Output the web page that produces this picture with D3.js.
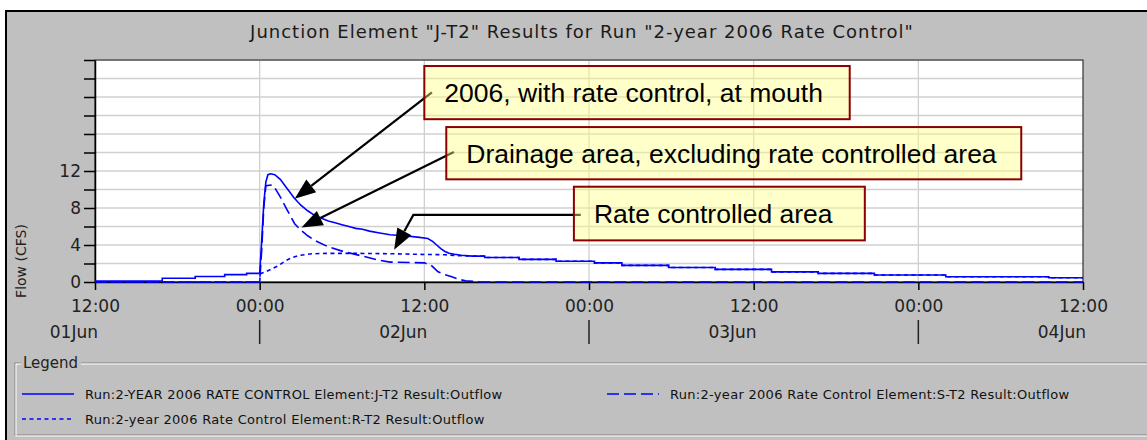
<!DOCTYPE html>
<html>
<head>
<meta charset="utf-8">
<script src="https://cdn.jsdelivr.net/npm/d3@7"></script>
<style>
  body { margin: 0; background: #fff; }
  svg { display: block; }
</style>
</head>
<body>
<div id="chart"></div>
<script>
// hours relative to 02Jun 00:00, flow in CFS
const jHours = [-12, -7.1, -7.1, -4.7, -4.7, -2.55, -2.55, -0.95, -0.95, 0, 0.15, 0.3, 0.45, 0.6, 0.8, 1.1, 1.5, 2, 2.5, 3, 3.5, 4, 4.5, 5, 5.5, 6, 6.5, 7, 7.5, 8, 8.75, 9.5, 10.5, 11.5, 12.25, 12.6, 12.9, 13.2, 13.5, 13.8, 14.2, 14.7, 15.5, 16.4];
const jFlow  = [0.1, 0.1, 0.4, 0.4, 0.6, 0.6, 0.8, 0.8, 0.93, 0.93, 4.5, 8.5, 10.8, 11.6, 11.7, 11.6, 11.1, 10.1, 9.1, 8.3, 7.7, 7.2, 6.9, 6.6, 6.4, 6.2, 6.0, 5.8, 5.7, 5.5, 5.3, 5.1, 5.0, 4.85, 4.7, 4.4, 4.0, 3.6, 3.3, 3.1, 3.0, 2.9, 2.8, 2.8];

// stepped recession shared by J-T2 and R-T2 after 16:24 on 02Jun
const tailHours = [16.4, 18.9, 18.9, 21.6, 21.6, 24.4, 24.4, 26.4, 26.4, 29.8, 29.8, 33.2, 33.2, 37.3, 37.3, 40.7, 40.7, 44.8, 44.8, 50, 50, 57.5, 57.5, 60];
const tailFlow  = [2.65, 2.65, 2.45, 2.45, 2.25, 2.25, 2.07, 2.07, 1.8, 1.8, 1.57, 1.57, 1.36, 1.36, 1.1, 1.1, 0.93, 0.93, 0.75, 0.75, 0.57, 0.57, 0.46, 0.46];

const sHours = [-12, 0, 0.15, 0.3, 0.45, 0.9, 1.1, 1.5, 2, 2.55, 3, 3.5, 4, 5, 6.2, 7.5, 8.7, 9.5, 12, 12.5, 13, 13.5, 14, 14.5, 15, 16, 16.7, 60];
const sFlow  = [0, 0, 3.5, 8, 10.4, 10.5, 10.2, 9.2, 7.8, 6.3, 5.6, 5.0, 4.5, 3.8, 3.25, 2.8, 2.36, 2.15, 2.07, 1.8, 1.1, 0.8, 0.57, 0.3, 0.12, 0.03, 0, 0];

const rHours = [-12, 0, 0.05, 0.5, 1, 1.4, 1.9, 2.3, 2.8, 3.8, 5, 7, 9.8, 12.3, 13.5, 14.5, 15.5, 16.4];
const rFlow  = [0, 0, 0.9, 1.15, 1.5, 1.8, 2.3, 2.6, 2.85, 3.05, 3.1, 3.1, 3.05, 2.97, 2.95, 2.85, 2.8, 2.8];

const legendLabels = [
  "Run:2-YEAR 2006 RATE CONTROL Element:J-T2 Result:Outflow",
  "Run:2-year 2006 Rate Control Element:S-T2 Result:Outflow",
  "Run:2-year 2006 Rate Control Element:R-T2 Result:Outflow"
];
const yTickValues = [0, 2, 4, 6, 8, 10, 12, 14, 16, 18, 20, 22, 24];
const yTickLabels = [0, 4, 8, 12];

const titleText = 'Junction Element "J-T2" Results for Run "2-year 2006 Rate Control"';

// callouts: box corners and arrow tips in (hour, flow)
const annotations = [
  { text: "2006, with rate control, at mouth", box: [12.0, 23.35, 43.0, 17.6], from: [12.55, 20.5], tip: [2.55, 9.0] },
  { text: "Drainage area, excluding rate controlled area", box: [13.6, 16.75, 55.5, 11.1], from: [14.15, 14.05], tip: [3.05, 5.9] },
  { text: "Rate controlled area", box: [22.9, 10.3, 44.1, 4.5], from: [23.4, 7.25], bend: [11.2, 7.25], tip: [9.8, 3.5] }
];

const base = new Date(2006, 5, 2, 0, 0);
const toDate = h => new Date(base.getTime() + h * 3600 * 1000);
const zip = (hs, vs) => hs.map((h, i) => ({ t: toDate(h), v: vs[i] }));

const width = 1147, height = 440;
const margin = { left: 95, right: 64, top: 60, bottom: 158 };

const svg = d3.select("#chart").append("svg")
  .attr("width", width)
  .attr("height", height)
  .style("font-family", "'DejaVu Sans', sans-serif");

// window frame
svg.append("rect")
  .attr("x", 6).attr("y", 11)
  .attr("width", width + 20).attr("height", height + 20)
  .attr("fill", "#c0c0c0")
  .attr("stroke", "#000")
  .attr("stroke-width", 2);

svg.append("text")
  .attr("x", 582).attr("y", 38)
  .attr("text-anchor", "middle")
  .attr("font-size", 18)
  .attr("letter-spacing", 1)
  .attr("fill", "#1a1a1a")
  .text(titleText);

const xScale = d3.scaleTime()
  .domain([new Date(2006, 5, 1, 12), new Date(2006, 5, 4, 12)])
  .range([margin.left, width - margin.right]);

const yScale = d3.scaleLinear()
  .domain([0, 24])
  .range([height - margin.bottom, margin.top]);

const x0 = xScale.range()[0], x1 = xScale.range()[1];
const yb = yScale(0), yt = yScale(24);

// plot area
svg.append("rect")
  .attr("x", x0).attr("y", yt)
  .attr("width", x1 - x0).attr("height", yb - yt)
  .attr("fill", "#fff");

const timeTicks = xScale.ticks(d3.timeHour.every(12));

const grid = svg.append("g").attr("stroke", "#d0d0d0").attr("stroke-width", 1.3);
grid.selectAll(".hg").data(yTickValues.slice(1)).join("line")
  .attr("x1", x0).attr("x2", x1)
  .attr("y1", d => yScale(d)).attr("y2", d => yScale(d));
grid.selectAll(".vg").data(timeTicks.slice(1, -1)).join("line")
  .attr("y1", yt).attr("y2", yb)
  .attr("x1", d => xScale(d)).attr("x2", d => xScale(d));

// plot border
svg.append("rect")
  .attr("x", x0).attr("y", yt)
  .attr("width", x1 - x0).attr("height", yb - yt)
  .attr("fill", "none")
  .attr("stroke", "#404040")
  .attr("stroke-width", 1.3);

// x axis
const gX = svg.append("g")
  .attr("transform", `translate(0,${yb})`)
  .call(d3.axisBottom(xScale)
    .tickValues(timeTicks)
    .tickFormat(d3.timeFormat("%H:%M"))
    .tickSize(8)
    .tickSizeOuter(0)
    .tickPadding(10));
gX.select(".domain").attr("stroke", "#000").attr("stroke-width", 1.5);
gX.selectAll(".tick line").attr("stroke", "#000").attr("stroke-width", 1.5);
gX.selectAll("text").attr("font-size", 17).attr("fill", "#222")
  .style("font-family", "'DejaVu Sans', sans-serif");

// day labels and separators
const dayNoons = timeTicks.filter(d => d.getHours() === 12);
const dayMidnights = timeTicks.filter(d => d.getHours() === 0);
svg.append("g").selectAll("text").data(dayNoons).join("text")
  .attr("x", d => xScale(d) + 3)
  .attr("y", 338)
  .attr("text-anchor", "end")
  .attr("font-size", 17)
  .attr("fill", "#222")
  .text(d => d3.timeFormat("%d%b")(d));
svg.append("g").selectAll("line").data(dayMidnights).join("line")
  .attr("x1", d => xScale(d)).attr("x2", d => xScale(d))
  .attr("y1", 320).attr("y2", 344)
  .attr("stroke", "#222").attr("stroke-width", 1.5);

// y axis
const gY = svg.append("g")
  .attr("transform", `translate(${x0},0)`)
  .call(d3.axisLeft(yScale)
    .tickValues(yTickValues)
    .tickFormat(d => yTickLabels.includes(d) ? d : "")
    .tickSize(11)
    .tickSizeOuter(0)
    .tickPadding(3));
gY.select(".domain").attr("stroke", "#000").attr("stroke-width", 1.5);
gY.selectAll(".tick line").attr("stroke", "#000").attr("stroke-width", 1.5);
gY.selectAll("text").attr("font-size", 17).attr("fill", "#222")
  .style("font-family", "'DejaVu Sans', sans-serif");

svg.append("text")
  .attr("transform", "translate(26,261) rotate(-90)")
  .attr("text-anchor", "middle")
  .attr("font-size", 14)
  .attr("fill", "#222")
  .text("Flow (CFS)");

// series
const line = d3.line().x(d => xScale(d.t)).y(d => yScale(d.v));

const series = [
  { data: zip(rHours.concat(tailHours), rFlow.concat(tailFlow)), dash: "4,3.5" },
  { data: zip(sHours, sFlow), dash: "12,5" },
  { data: zip(jHours.concat(tailHours), jFlow.concat(tailFlow)), dash: null }
];
series.forEach(s => {
  svg.append("path")
    .datum(s.data)
    .attr("d", line)
    .attr("fill", "none")
    .attr("stroke", "#0000ff")
    .attr("stroke-width", 1.6)
    .attr("stroke-dasharray", s.dash);
});

// callouts: arrows first, boxes over them
const px = p => [xScale(toDate(p[0])), yScale(p[1])];
const arrows = svg.append("g");
annotations.forEach(a => {
  const pts = [px(a.from)];
  if (a.bend) pts.push(px(a.bend));
  const tip = px(a.tip);
  const prev = pts[pts.length - 1];
  const ang = Math.atan2(tip[1] - prev[1], tip[0] - prev[0]);
  const headLen = 21, headW = 8;
  const baseX = tip[0] - headLen * Math.cos(ang), baseY = tip[1] - headLen * Math.sin(ang);
  pts.push([baseX, baseY]);
  arrows.append("path")
    .attr("d", d3.line()(pts))
    .attr("fill", "none")
    .attr("stroke", "#000")
    .attr("stroke-width", 2.2);
  const nx = -Math.sin(ang), ny = Math.cos(ang);
  arrows.append("path")
    .attr("d", d3.line()([tip, [baseX + nx * headW, baseY + ny * headW], [baseX - nx * headW, baseY - ny * headW]]) + "Z")
    .attr("fill", "#000");
});

const boxes = svg.append("g");
annotations.forEach(a => {
  const [bx0, by0] = px([a.box[0], a.box[1]]);
  const [bx1, by1] = px([a.box[2], a.box[3]]);
  boxes.append("rect")
    .attr("x", bx0).attr("y", by0)
    .attr("width", bx1 - bx0).attr("height", by1 - by0)
    .attr("fill", "#ffff80")
    .attr("fill-opacity", 0.42)
    .attr("stroke", "#8b0000")
    .attr("stroke-width", 2);
  boxes.append("text")
    .attr("x", bx0 + 20)
    .attr("y", (by0 + by1) / 2 + 9.5)
    .attr("font-family", "'Liberation Sans', Arial, sans-serif")
    .attr("font-size", 26.5)
    .attr("fill", "#000")
    .text(a.text);
});

// legend group box
const lg = svg.append("g");
const lgTop = 363, lgBottom = 435, lgLeft = 15, lgRight = 1160;
lg.append("rect")
  .attr("x", lgLeft).attr("y", lgTop)
  .attr("width", lgRight - lgLeft).attr("height", lgBottom - lgTop)
  .attr("fill", "none").attr("stroke", "#808080").attr("stroke-width", 1);
lg.append("rect")
  .attr("x", lgLeft + 1).attr("y", lgTop + 1)
  .attr("width", lgRight - lgLeft).attr("height", lgBottom - lgTop)
  .attr("fill", "none").attr("stroke", "#fff").attr("stroke-width", 1);
lg.append("rect")
  .attr("x", 21).attr("y", 355).attr("width", 60).attr("height", 16)
  .attr("fill", "#c0c0c0");
lg.append("text")
  .attr("x", 23).attr("y", 368)
  .attr("font-size", 15)
  .attr("fill", "#222")
  .text("Legend");

const legendPos = [[22, 394], [607, 394], [22, 419]];
const legendDash = [null, "12,5", "4,3.5"];
legendLabels.forEach((label, i) => {
  const [lx, ly] = legendPos[i];
  lg.append("line")
    .attr("x1", lx).attr("x2", lx + 52)
    .attr("y1", ly).attr("y2", ly)
    .attr("stroke", "#0000ff")
    .attr("stroke-width", 1.6)
    .attr("stroke-dasharray", legendDash[i]);
  lg.append("text")
    .attr("x", lx + 63).attr("y", ly + 5)
    .attr("font-size", 13)
    .attr("letter-spacing", 0.3)
    .attr("fill", "#111")
    .text(label);
});
</script>
</body>
</html>
